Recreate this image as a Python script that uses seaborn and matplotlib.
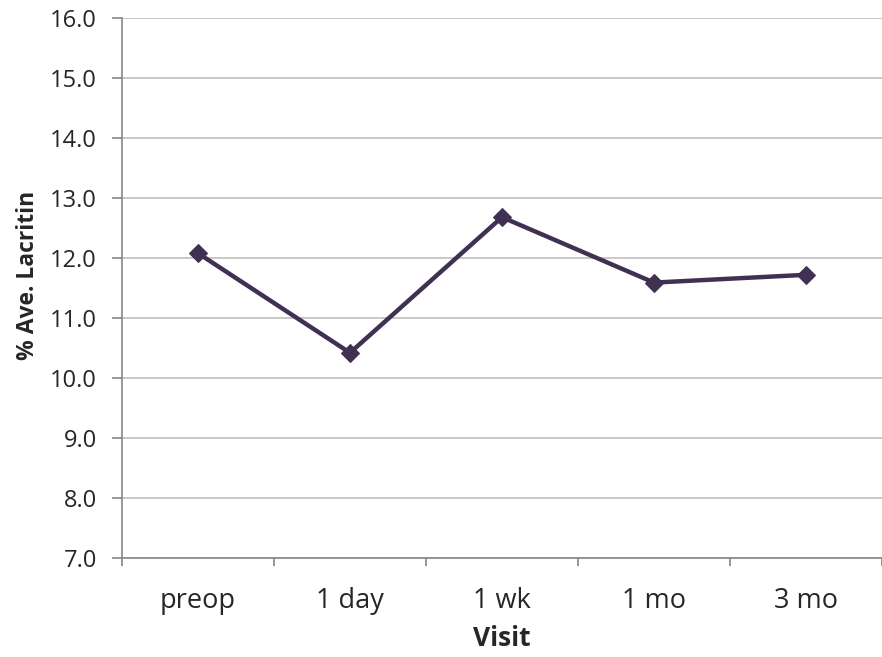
import matplotlib
matplotlib.use("Agg")
import matplotlib.pyplot as plt
import seaborn as sns
import pandas as pd
from matplotlib.ticker import FixedLocator

visits = ["preop", "1 day", "1 wk", "1 mo", "3 mo"]
lacritin = [12.08, 10.42, 12.68, 11.59, 11.72]
yticks = [7.0, 8.0, 9.0, 10.0, 11.0, 12.0, 13.0, 14.0, 15.0, 16.0]

df = pd.DataFrame({"Visit": visits, "Lacritin": lacritin})

sns.set_style("white")
plt.rcParams['font.family'] = ['Open Sans', 'DejaVu Sans']

fig = plt.figure(figsize=(8.82, 6.57), dpi=100)
ax = fig.add_axes([122/882, 1 - 558/657, 760/882, 540/657])

ax.set_axisbelow(True)
for v in yticks:
    ax.axhline(v, color="#BFBFBF", lw=1.2, zorder=0)

sns.lineplot(data=df, x="Visit", y="Lacritin", ax=ax, sort=False,
             color="#403152", lw=3.2, marker="D", markersize=9,
             markeredgecolor="#403152", zorder=3)

ax.set_xlim(-0.5, len(visits) - 0.5)
ax.set_ylim(7.0, 16.0)
ax.set_yticks(yticks)
ax.set_yticklabels([f"{v:.1f}" for v in yticks])
ax.set_xticks(range(len(visits)))
ax.set_xticklabels(visits)
ax.xaxis.set_minor_locator(FixedLocator([i - 0.5 for i in range(len(visits) + 1)]))
ax.tick_params(axis="x", which="major", length=0, pad=21, labelsize=19.5)
ax.tick_params(axis="x", which="minor", length=6, width=1.2, color="#868686", direction="out", bottom=True)
ax.tick_params(axis="y", length=7, width=1.2, color="#868686", direction="out", left=True, labelsize=17, pad=11)

for s in ["top", "right"]:
    ax.spines[s].set_visible(False)
for s in ["left", "bottom"]:
    ax.spines[s].set_color("#868686")
    ax.spines[s].set_linewidth(1.2)

ax.set_xlabel("Visit", fontsize=19, fontweight="bold", labelpad=7)
ax.set_ylabel("% Ave. Lacritin", fontsize=16.5, fontweight="bold")
ax.yaxis.set_label_coords(-0.108, 0.524)

fig.savefig("out.png", dpi=100)
